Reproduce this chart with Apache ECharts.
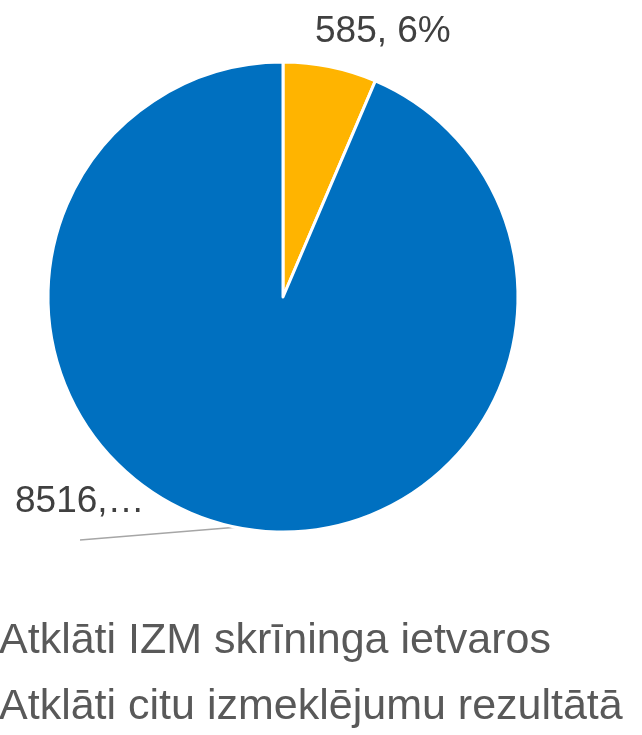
<!DOCTYPE html>
<html>
<head>
<meta charset="utf-8">
<script src="https://cdn.jsdelivr.net/npm/echarts@6/dist/echarts.min.js"></script>
<style>
html,body{margin:0;padding:0;background:#fff;}
#c{width:642px;height:735px;}
</style>
</head>
<body>
<div id="c"></div>
<script>
const categories = ['Atklāti IZM skrīninga ietvaros', 'Atklāti citu izmeklējumu rezultātā'];
const values = [585, 8516];
const colors = ['#FFB400', '#0070C0'];

const chart = echarts.init(document.getElementById('c'), null, {renderer: 'canvas'});
const data = categories.map((n, i) => ({
  name: n,
  value: values[i],
  itemStyle: {color: colors[i]},
  labelLine: {show: i === 1},
  label: i === 1 ? {width: 134, overflow: 'truncate', ellipsis: '…'} : {}
}));

chart.setOption({
  animation: false,
  backgroundColor: '#ffffff',
  legend: {
    orient: 'vertical',
    left: -32,
    top: 620,
    width: 800,
    height: 300,
    padding: 0,
    itemWidth: 25,
    itemHeight: 25,
    itemGap: 23,
    icon: 'rect',
    textStyle: {fontFamily: 'Liberation Sans', fontSize: 43, color: '#595959', lineHeight: 43},
    data: categories
  },
  series: [{
    type: 'pie',
    center: [283, 297],
    radius: [0, 235],
    startAngle: 90,
    clockwise: true,
    percentPrecision: 0,
    itemStyle: {borderColor: '#ffffff', borderWidth: 3},
    label: {
      show: true,
      position: 'outside',
      formatter: '{c}, {d}%',
      fontFamily: 'Liberation Sans',
      fontSize: 37,
      color: '#404040'
    },
    labelLine: {show: true, length: 5, length2: 5, lineStyle: {color: '#A6A6A6', width: 1.5}},
    labelLayout: function (p) {
      if (p.dataIndex === 0) {
        return {x: 315, y: 32, align: 'left', verticalAlign: 'middle'};
      }
      const s = p.labelLinePoints ? p.labelLinePoints[0] : [237, 530];
      return {x: 15, y: 502, align: 'left', verticalAlign: 'middle',
        labelLinePoints: [s, [80, 540], [80, 540]]};
    },
    data: data
  }]
});
</script>
</body>
</html>
